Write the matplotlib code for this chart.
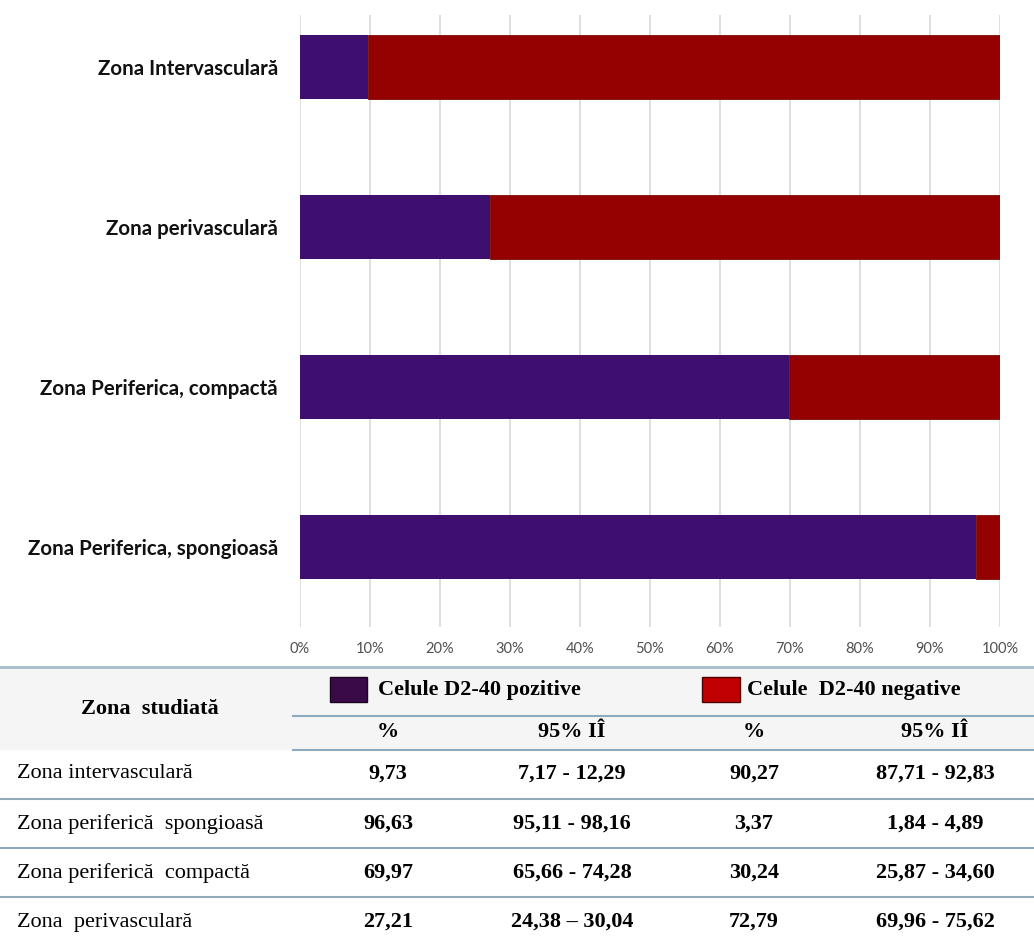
import numpy as np
import matplotlib.pyplot as plt
from matplotlib.ticker import PercentFormatter
from matplotlib.patches import Rectangle

# chart data (top to bottom)
zones = ["Zona Intervasculară", "Zona perivasculară",
         "Zona Periferica, compactă", "Zona Periferica, spongioasă"]
pos_pct = np.array([9.73, 27.21, 69.97, 96.63])
neg_pct = np.array([90.27, 72.79, 30.24, 3.37])

# table data
tbl_zones = ["Zona intervasculară", "Zona periferică  spongioasă",
             "Zona periferică  compactă", "Zona  perivasculară"]
tbl_pos = ["9,73", "96,63", "69,97", "27,21"]
tbl_pos_ci = ["7,17 - 12,29", "95,11 - 98,16", "65,66 - 74,28", "24,38 – 30,04"]
tbl_neg = ["90,27", "3,37", "30,24", "72,79"]
tbl_neg_ci = ["87,71 - 92,83", "1,84 - 4,89", "25,87 - 34,60", "69,96 - 75,62"]

purple = "#3f0f70"
red = "#950000"

W, H = 1034, 940
fig = plt.figure(figsize=(W / 100, H / 100), dpi=100)

# 100% stacked bar chart
ax = fig.add_axes([300 / W, 1 - 627 / H, 700 / W, 612 / H])
tot = pos_pct + neg_pct
pos_share = pos_pct / tot * 100
neg_share = neg_pct / tot * 100
y = np.arange(len(zones))
ax.barh(y, pos_share, height=0.4, color=purple, zorder=3)
ax.barh(y, neg_share, left=pos_share, height=0.4, color=red,
        edgecolor="#7a0a00", linewidth=0.6, zorder=3)
ax.set_xlim(0, 100)
ax.set_ylim(3.5, -0.325)
ax.set_yticks(y)
ax.set_yticklabels(zones, fontfamily="Lato", fontweight="bold", fontsize=14.8, color="#111111")
ax.set_xticks(np.arange(0, 101, 10))
ax.xaxis.set_major_formatter(PercentFormatter(decimals=0))
for lab in ax.get_xticklabels():
    lab.set_fontfamily("Lato")
    lab.set_fontsize(10.5)
    lab.set_color("#505050")
ax.tick_params(axis="x", length=0, pad=11)
ax.tick_params(axis="y", length=0, pad=16)
ax.grid(axis="x", color="#d9d9d9", linewidth=1.2, zorder=0)
for s in ax.spines.values():
    s.set_visible(False)

# table drawn in pixel coordinates
tx = fig.add_axes([0, 0, 1, 1], zorder=-1)
tx.set_xlim(0, W)
tx.set_ylim(H, 0)
tx.axis("off")

tx.add_patch(Rectangle((0, 667), W, 82, color="#f5f5f5", zorder=0))
line_c = "#8fa9bd"
tx.plot([0, W], [667, 667], color="#a5bccb", lw=2)
tx.plot([293, W], [716, 716], color=line_c, lw=1.5)
tx.plot([293, W], [750, 750], color=line_c, lw=1.5)
for yy in [799, 848, 897]:
    tx.plot([0, W], [yy, yy], color=line_c, lw=1.5)

serif = "Liberation Serif"
fs = 16
tx.text(150, 709, "Zona  studiată", ha="center", va="center", family=serif,
        weight="bold", fontsize=fs)
tx.add_patch(Rectangle((330, 677), 37, 25, facecolor="#3a0a48", edgecolor="#1a0520", lw=1))
tx.text(378, 690, "Celule D2-40 pozitive", ha="left", va="center", family=serif,
        weight="bold", fontsize=fs)
tx.add_patch(Rectangle((702, 677), 38, 25, facecolor="#c00000", edgecolor="#500000", lw=1))
tx.text(747, 690, "Celule  D2-40 negative", ha="left", va="center", family=serif,
        weight="bold", fontsize=fs)

col_x = [388, 572, 754, 935]
for cx, h in zip(col_x, ["%", "95% IÎ", "%", "95% IÎ"]):
    tx.text(cx, 732, h, ha="center", va="center", family=serif, weight="bold", fontsize=fs)

row_y = [774, 824, 873, 922]
for i, ry in enumerate(row_y):
    tx.text(17, ry, tbl_zones[i], ha="left", va="center", family=serif, fontsize=fs)
    vals = [tbl_pos[i], tbl_pos_ci[i], tbl_neg[i], tbl_neg_ci[i]]
    for cx, v in zip(col_x, vals):
        tx.text(cx, ry, v, ha="center", va="center", family=serif, weight="bold", fontsize=fs)

fig.savefig("out.png", dpi=100, facecolor="white")
